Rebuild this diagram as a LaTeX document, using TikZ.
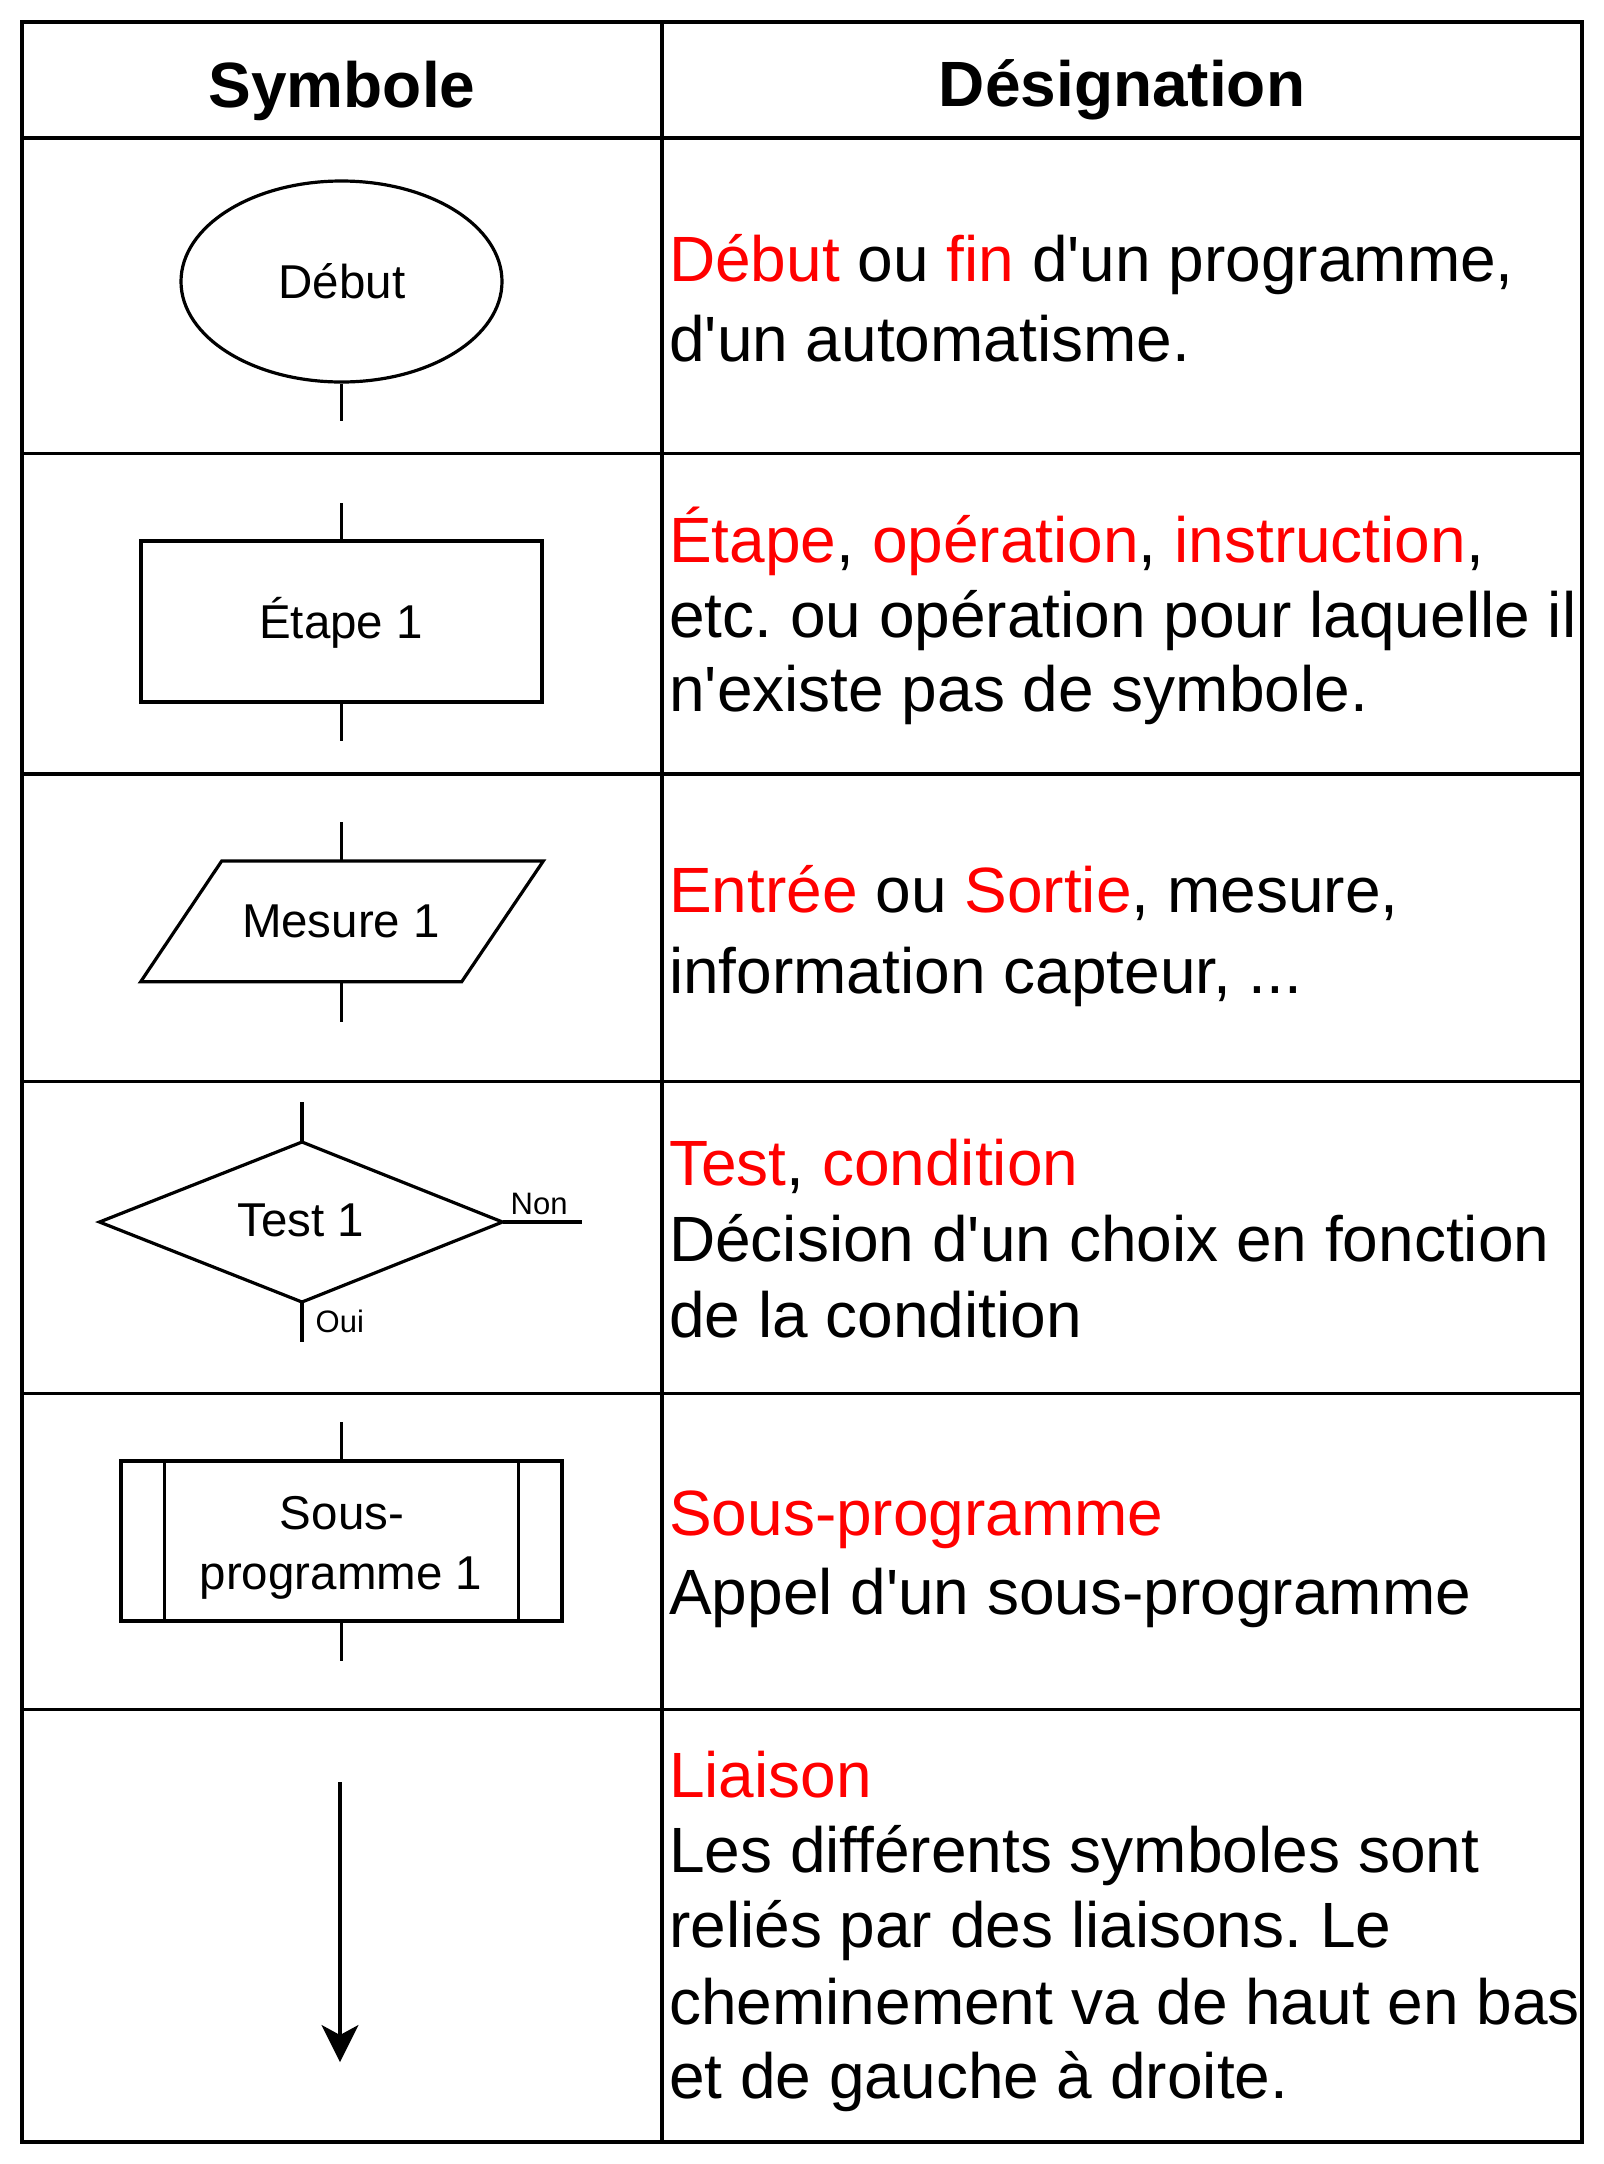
\documentclass[tikz,border=0pt]{standalone}
\usepackage{fontspec}
\setmainfont{Liberation Sans}[Ligatures=ResetAll]
\usetikzlibrary{shapes.geometric,arrows.meta}
\definecolor{hl}{RGB}{255,0,0}
\newcommand\ap{\XeTeXglyph\XeTeXcharglyph"27\relax}
\frenchspacing
\begin{document}
\begin{tikzpicture}[x=1pt,y=-1pt,
  grid/.style={line width=3.2pt},
  outline/.style={draw,line width=3.2pt},
  shp/.style={draw,line width=3.2pt,inner sep=0pt},
  stub/.style={line width=3.2pt},
  head/.style={font=\fontsize{64}{76}\bfseries\selectfont,anchor=base,inner sep=0pt},
  desc/.style={font=\fontsize{64}{76}\selectfont,anchor=base west,inner sep=0pt},
  lab/.style={font=\fontsize{47.5}{56}\selectfont,anchor=base,inner sep=0pt},
  small/.style={font=\fontsize{31}{37}\selectfont,anchor=base west,inner sep=0pt}]
\useasboundingbox (0,0) rectangle (1604,2164);
% table
\draw[grid] (22,22) rectangle (1582,2142);
\draw[grid] (662,22) -- (662,2142);
\foreach \yy in {138,453.5,774,1081.5,1393.5,1709.5} \draw[grid] (22,\yy) -- (1582,\yy);
% header
\node[head] (hs) at (342,107) {Symbole};
\node[head] (hd) at (1122,106) {Désignation};
% row 1
\node[shp,ellipse,minimum width=321pt,minimum height=201pt] (deb) at (341.5,281.5) {};
\node[lab] (debt) at (342,298.5) {Début};
\coordinate (debout) at (341.5,421);
\draw[stub] (deb.south) -- (debout);
\node[desc] (d1a) at (669,281) {\textcolor{hl}{Début} ou \textcolor{hl}{fin} d\ap un programme,};
\node[desc] (d1b) at (669,361) {d\ap un automatisme.};
% row 2
\node[shp,rectangle,minimum width=401pt,minimum height=161pt] (eta) at (341.5,621.5) {};
\node[lab] (etat) at (341,638) {Étape 1};
\coordinate (etain) at (341.5,503);
\coordinate (etaout) at (341.5,741);
\draw[stub] (etain) -- (eta.north);
\draw[stub] (eta.south) -- (etaout);
\node[desc] (d2a) at (669,562) {\textcolor{hl}{Étape}, \textcolor{hl}{opération}, \textcolor{hl}{instruction},};
\node[desc] (d2b) at (669,637) {etc. ou opération pour laquelle il};
\node[desc] (d2c) at (669,711.5) {n\ap existe pas de symbole.};
% row 3
\coordinate (m1) at (221.7,861);
\coordinate (m2) at (543.3,861);
\coordinate (m3) at (461.7,981.7);
\coordinate (m4) at (140.7,981.7);
\draw[outline] (m1) -- (m2) -- (m3) -- (m4) -- cycle;
\node[lab] (mest) at (341,937) {Mesure 1};
\coordinate (mtop) at (341.7,861);
\coordinate (mbot) at (341.7,981.7);
\coordinate (min) at (341.7,822);
\coordinate (mout) at (341.7,1021.7);
\draw[stub] (min) -- (mtop);
\draw[stub] (mbot) -- (mout);
\node[desc] (d3a) at (669,912.7) {\textcolor{hl}{Entrée} ou \textcolor{hl}{Sortie}, mesure,};
\node[desc] (d3b) at (669,993) {information capteur, ...};
% row 4
\coordinate (tn) at (302,1142);
\coordinate (te) at (502.5,1222);
\coordinate (ts) at (302,1302);
\coordinate (tw) at (99.5,1222);
\draw[outline,line join=miter] (tn) -- (te) -- (ts) -- (tw) -- cycle;
\node[lab] (testt) at (301,1236.6) {Test 1};
\coordinate (tin) at (302,1102);
\coordinate (tout) at (302,1341.5);
\coordinate (tnon) at (581.6,1222);
\draw[stub] (tin) -- (tn);
\draw[stub] (ts) -- (tout);
\draw[stub] (te) -- (tnon);
\node[small] (non) at (510.5,1214) {Non};
\node[small] (oui) at (315.5,1332.6) {Oui};
\node[desc] (d4a) at (669,1185) {\textcolor{hl}{Test}, \textcolor{hl}{condition}};
\node[desc] (d4b) at (669,1261) {Décision d\ap un choix en fonction};
\node[desc] (d4c) at (669,1337) {de la condition};
% row 5
\node[shp,rectangle,minimum width=441pt,minimum height=160pt] (sp) at (341.5,1541) {};
\draw[stub] ([xshift=45pt]sp.north west) -- ([xshift=45pt]sp.south west);
\draw[stub] ([xshift=-45pt]sp.north east) -- ([xshift=-45pt]sp.south east);
\node[lab] (spt1) at (342,1529) {Sous-};
\node[lab] (spt2) at (341,1589) {programme 1};
\coordinate (spin) at (341.5,1422);
\coordinate (spout) at (341.5,1661);
\draw[stub] (spin) -- (sp.north);
\draw[stub] (sp.south) -- (spout);
\node[desc] (d5a) at (669,1535.5) {\textcolor{hl}{Sous-programme}};
\node[desc] (d5b) at (669,1614.4) {Appel d\ap un sous-programme};
% row 6
\coordinate (ars) at (340,1782);
\coordinate (are) at (340,2062);
\draw[line width=3.2pt,-{Stealth[length=37pt,width=37pt,inset=10pt]}] (ars) -- (are);
\node[desc] (d6a) at (669,1797) {\textcolor{hl}{Liaison}};
\node[desc] (d6b) at (669,1872) {Les différents symboles sont};
\node[desc] (d6c) at (669,1947.3) {reliés par des liaisons. Le};
\node[desc] (d6d) at (669,2024) {cheminement va de haut en bas};
\node[desc] (d6e) at (669,2098) {et de gauche à droite.};
\end{tikzpicture}
\end{document}
